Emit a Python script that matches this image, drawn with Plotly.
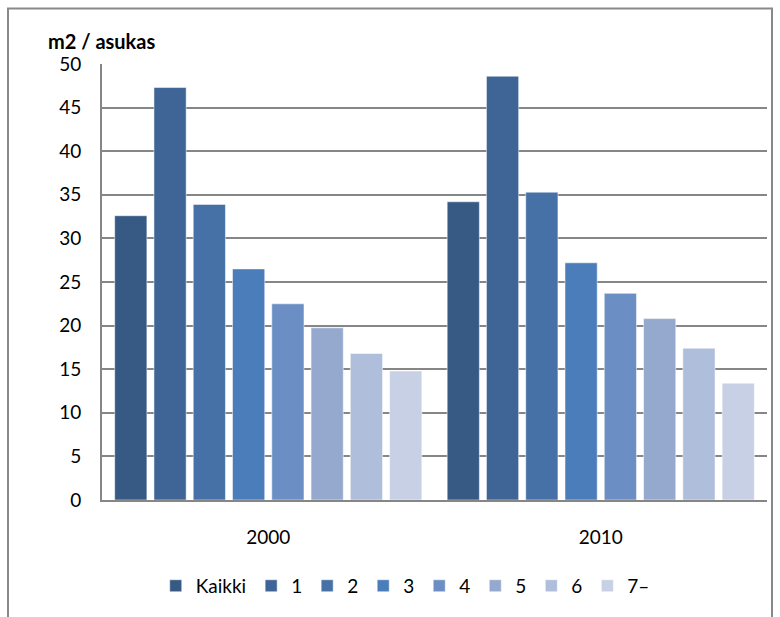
import plotly.graph_objects as go

years = ["2000", "2010"]
series_names = ["Kaikki", "1", "2", "3", "4", "5", "6", "7–"]
values_2000 = [32.6, 47.3, 33.9, 26.5, 22.5, 19.75, 16.8, 14.8]
values_2010 = [34.2, 48.6, 35.3, 27.2, 23.7, 20.8, 17.4, 13.4]
colors = ["#375A84", "#3E6596", "#4571A6", "#4A7DB9", "#6B8FC4", "#95A9CF", "#AFBEDA", "#C7D0E4"]
y_ticks = [0, 5, 10, 15, 20, 25, 30, 35, 40, 45, 50]

FONT = "Lato, Calibri, Carlito, 'Open Sans', sans-serif"

fig = go.Figure()
for i, name in enumerate(series_names):
    fig.add_trace(go.Bar(
        x=years,
        y=[values_2000[i], values_2010[i]],
        name=name,
        marker=dict(color=colors[i], line=dict(color="rgba(255,255,255,0.5)", width=1)),
    ))

fig.update_layout(
    width=780, height=617,
    margin=dict(l=102, r=13, t=64, b=114),
    paper_bgcolor="white", plot_bgcolor="white",
    barmode="group", bargap=0.055, bargroupgap=0.18,
    font=dict(family=FONT, size=19, color="#000000"),
    showlegend=True,
    legend=dict(orientation="h", x=0.456, xanchor="center", y=-0.197, yanchor="middle",
                font=dict(size=19), itemwidth=30, traceorder="normal", tracegroupgap=0),
    xaxis=dict(showgrid=False, showline=True, linecolor="#868686", linewidth=2,
               ticks="", ticklabelstandoff=19, tickfont=dict(size=19)),
    yaxis=dict(range=[0, 50], tickvals=y_ticks, showgrid=True, gridcolor="#868686", gridwidth=1.5,
               showline=True, linecolor="#868686", linewidth=2, ticks="",
               ticklabelstandoff=15, zeroline=False, tickfont=dict(size=19)),
    shapes=[dict(type="rect", xref="paper", yref="paper",
                 x0=(8 - 102) / 665, x1=(772 - 102) / 665,
                 y0=(503 - 630) / 439, y1=(503 - 8) / 439,
                 line=dict(color="#898989", width=2), fillcolor="rgba(0,0,0,0)", layer="below")],
    annotations=[dict(text="<b>m2 / asukas</b>", xref="paper", yref="paper",
                      x=(46 - 102) / 665, y=(503 - 41) / 439, xanchor="left", yanchor="middle",
                      showarrow=False, font=dict(size=20, family=FONT))],
)

fig.write_html("out.html", config={"displayModeBar": False},
               post_script="document.body.style.margin='0';")
